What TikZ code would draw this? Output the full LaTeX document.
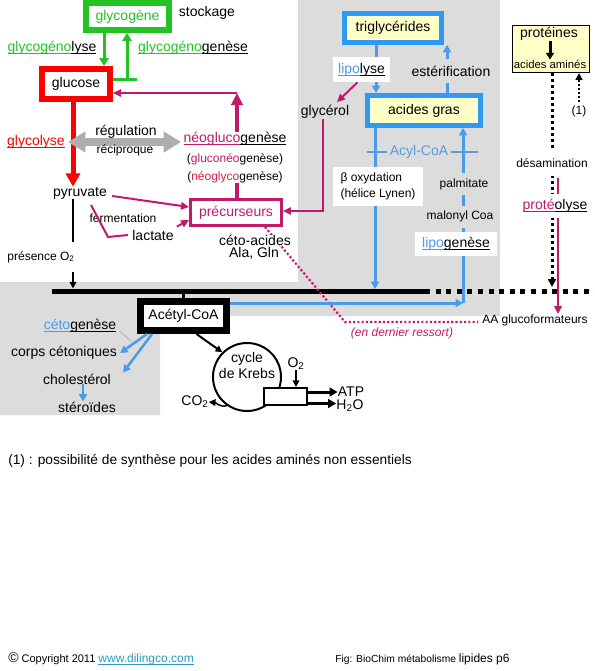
\documentclass[tikz,border=0pt]{standalone}
\usepackage{fontspec}
\setmainfont{Liberation Sans}
\usetikzlibrary{arrows.meta,calc}
\definecolor{cGreen}{HTML}{22C322}
\definecolor{cRed}{HTML}{FF0000}
\definecolor{cMag}{HTML}{C21A6B}
\definecolor{cRedB}{HTML}{D8204A}
\definecolor{cBlue}{HTML}{2E9BF2}
\definecolor{cBlueL}{HTML}{4A9BEA}
\definecolor{cAcyl}{HTML}{5B9BE0}
\definecolor{cYel}{HTML}{FFFFC8}
\definecolor{cBG}{HTML}{DCDCDC}
\definecolor{cGrayA}{HTML}{AEAEAE}
\definecolor{cLink}{HTML}{2A9BC0}
\newcommand{\fL}{\fontsize{10.5}{12}\selectfont}
\newcommand{\fM}{\fontsize{9}{12}\selectfont}
\newcommand{\fS}{\fontsize{8.25}{9.5}\selectfont}
\newcommand{\fF}{\fontsize{10.3}{12}\selectfont}
\newcommand{\ulc}[2]{{\color{#1}\setbox0\hbox{#2}\rlap{\rule[-0.17em]{\wd0}{0.07em}}\box0}}
\begin{document}
\begin{tikzpicture}[x=0.75pt,y=-0.75pt,
  txt/.style={inner sep=0pt,font=\fL},
  stx/.style={inner sep=0pt,font=\fM},
  bx/.style={draw,fill=white,inner sep=0pt,font=\fL,align=center},
  marr/.style={draw=cMag,line width=1.5pt,-{Triangle[length=6pt,width=5.5pt]}},
  mln/.style={draw=cMag,line width=1.5pt},
  mthk/.style={draw=cMag,line width=3pt},
  garr/.style={draw=cGreen,line width=2.25pt,-{Triangle[length=6pt,width=7pt]}},
  barr/.style={draw=cBlueL,line width=2.25pt,-{Triangle[length=5.5pt,width=6pt]}},
  karr/.style={draw=black,line width=1.1pt,-{Triangle[length=5pt,width=5pt]}}
]
\fill[white] (0,0) rectangle (595,671);
\useasboundingbox (0,0) rectangle (595,671);
\fill[cBG] (0,282) -- (298,282) -- (298,0) -- (500,0) -- (500,316) -- (160,316) -- (160,415) -- (0,415) -- cycle;

% ---- glycogen / glucose
\node[bx, draw=cGreen, line width=4.5pt, minimum width=83*0.75pt, minimum height=27*0.75pt, text=cGreen] (glycogen) at (127.5,16.5) {glycogène};
\node[txt] (stock) at (207,13) {stockage};
\node[bx, draw=cRed, line width=4.5pt, minimum width=68*0.75pt, minimum height=30*0.75pt] (glucose) at (76,84) {glucose};
\node[txt] (glyl) at (52,48) {\ulc{cGreen}{glycogéno}\ulc{black}{lyse}};
\node[txt] (glyg) at (193,48) {\ulc{cGreen}{glycogéno}\ulc{black}{genèse}};
\coordinate (gt) at (137,79);
\coordinate (gu) at (127,79);
\draw[garr] (glycogen.south -| 104,0) -- (glucose.north -| 104,0);
\draw[draw=cGreen,line width=2.25pt] (glucose.east |- gt) -- (gt);
\draw[garr] (gu) -- (glycogen.south -| gu);

% ---- glycolysis
\node[txt] (glycol) at (36,142) {\ulc{cRed}{glycolyse}};
\node[txt] (pyr) at (80,193) {pyruvate};
\draw[draw=cRed, line width=3.75pt, -{Triangle[length=10pt,width=10.5pt]}] (glucose.south -| 73,0) -- (pyr.north -| 73,0);

% ---- regulation
\coordinate (ga1) at (68,142);
\coordinate (ga2) at (181,142);
\draw[draw=cGrayA, line width=6pt, {Triangle[length=13pt,width=15pt]}-{Triangle[length=13pt,width=15pt]}] (ga1) -- (ga2);
\node[txt] (reg) at (126,132) {régulation};
\node[stx] (recip) at (125,150) {réciproque};

% ---- neoglucogenese
\node[txt] (neo) at (235,139) {\ulc{cMag}{néogluco}\ulc{black}{genèse}};
\node[stx] (gluconeo) at (235,159) {(\textcolor{cMag}{gluconéo}genèse)};
\node[stx] (neoglyco) at (235,177) {(\textcolor{cRedB}{néoglyco}genèse)};
\coordinate (mtop) at (237,93);
\draw[draw=cMag, line width=3pt, -{Triangle[length=9pt,width=8.5pt]}] (neo.north -| mtop) -- (mtop);
\draw[marr] (mtop) -- (glucose.east |- mtop);
\node[bx, draw=cMag, line width=2.6pt, minimum width=90.5*0.75pt, minimum height=25.5*0.75pt, text=cMag] (prec) at (236,212.5) {précurseurs};
\draw[mthk] (neoglyco.south -| 237,0) -- (prec.north -| 237,0);

% ---- pyruvate, lactate
\draw[marr] ($(pyr.east)+(5,3)$) -- (prec.west |- 0,207);
\node[stx] (ferm) at (123,218) {fermentation};
\node[txt] (lact) at (153,235) {lactate};
\coordinate (fb1) at (91,205);
\coordinate (fb2) at (108,237);
\draw[mln] (fb1) -- (fb2) -- ($(lact.west)+(-4,0)$);
\draw[marr] ($(lact.north east)+(3,-3)$) -- (prec.west |- 0,220);

% ---- bar
\coordinate (barL) at (52,291);
\coordinate (barM) at (425,291);
\coordinate (barR) at (595,291);
\draw[line width=3.75pt] (barL) -- (barM);
\draw[line width=3.75pt, dash pattern=on 3.75pt off 4.2pt] (barM) -- (barR);
\coordinate (pyb) at (73,288.5);
\draw[draw=black, line width=1.5pt, -{Triangle[length=5pt,width=5pt]}] (pyr.south -| pyb) -- (pyb);
\node[stx, fill=white, minimum height=30*0.75pt] (pres) at (41,257) {présence O\textsubscript{2}};

% ---- ceto-acides dotted
\node[stx] (aa) at (535,320) {AA glucoformateurs};
\coordinate (dc) at (345,322);
\draw[draw=cMag, line width=1.6pt, dash pattern=on 1.6pt off 1.6pt] (prec.south -| 265,0) -- (dc) -- ($(dc -| aa.west)+(-4,0)$);
\node[txt, fill=white] (ceto) at (255,240) {céto-acides};
\node[txt] (ala) at (254,253) {Ala, Gln};
\node[stx, text=cMag, font=\fM\itshape] (dernier) at (402,333) {(en dernier ressort)};

% ---- lipids
\node[bx, draw=cBlue, fill=cYel, line width=3.75pt, minimum width=97*0.75pt, minimum height=29*0.75pt] (trig) at (393,28) {triglycérides};
\node[bx, draw=cBlue, fill=cYel, line width=4.1pt, minimum width=112.5*0.75pt, minimum height=29.5*0.75pt] (ag) at (424,110.5) {acides gras};
\draw[barr] (trig.south -| 376,0) -- (ag.north -| 376,0);
\draw[barr] (ag.north -| 447,0) -- (trig.south -| 447,0);
\node[inner sep=0pt, fill=white, minimum width=57*0.75pt, minimum height=25*0.75pt, font=\fL] (lipo) at (361.5,69.5) {\ulc{cBlueL}{lipo}\ulc{black}{lyse}};
\node[txt, fill=cBG, minimum height=24*0.75pt] (ester) at (451,71) {estérification};
\node[txt] (glycerol) at (325,112) {glycérol};
\draw[marr] ($(lipo.south)+(-4,0)$) -- ($(glycerol.north)+(12,-3)$);
\draw[marr] (glycerol.south -| 323,0) |- (prec.east |- 0,211);

% Acetyl-CoA
\node[bx, line width=5.25pt, minimum width=86*0.75pt, minimum height=29*0.75pt] (acetyl) at (183.5,316) {Acétyl-CoA};
\draw[line width=1.9pt] (acetyl.north) -- (acetyl.north |- barL);

\coordinate (bc) at (463,303);
\draw[barr] (acetyl.east |- bc) -- (bc);
\draw[barr] (bc) -- (ag.south -| bc);
\coordinate (bl) at (375,289);
\draw[barr] (ag.south -| bl) -- (bl);
\coordinate (acl1) at (367,152);
\coordinate (acl2) at (478,152);
\draw[draw=cAcyl, line width=0.9pt] (acl1) -- (acl2);
\node[txt, text=cAcyl, fill=cBG, inner xsep=2pt] (acyl) at (419,152) {Acyl-CoA};
\node[stx, fill=white, align=left, minimum width=90*0.75pt, minimum height=39*0.75pt] (beta) at (378,186.5) {β oxydation\\(hélice Lynen)};
\node[stx, fill=cBG, minimum height=22*0.75pt] (palm) at (464,184) {palmitate};
\node[stx, fill=cBG, minimum height=22*0.75pt] (malo) at (460,216.5) {malonyl Coa};
\node[inner sep=0pt, fill=white, minimum width=82*0.75pt, minimum height=24*0.75pt, font=\fL] (lipog) at (456,244) {\ulc{cBlueL}{lipo}\ulc{black}{genèse}};

% ---- proteins
\node[draw, fill=cYel, line width=0.9pt, minimum width=77*0.75pt, minimum height=47*0.75pt, inner sep=0pt] (prot) at (551,49) {};
\node[txt] (prot1) at (549,34) {protéines};
\node[inner sep=0pt, font=\fontsize{8.5}{10}\selectfont] (prot2) at (550,64) {acides aminés};
\draw[line width=2.25pt, -{Triangle[length=5pt,width=6pt]}] (prot1.south -| 550,0) -- (prot2.north -| 550,0);
\coordinate (pdb) at (552,287);
\draw[line width=2.25pt, dash pattern=on 2.25pt off 2.25pt, -{Triangle[length=6pt,width=6pt]}] (prot.south -| pdb) -- (pdb);
\node[stx, fill=white, minimum height=26*0.75pt] (desam) at (552,163) {désamination};
\coordinate (mp1) at (558,178);
\draw[marr] (mp1) -- (aa.north -| mp1);
\node[txt, fill=white, minimum height=24*0.75pt] (proteo) at (555,206) {\ulc{cMag}{proté}\ulc{black}{olyse}};
\node[stx, fill=white, minimum height=18*0.75pt] (one) at (579,111) {(1)};
\draw[line width=1.5pt, dash pattern=on 1.5pt off 1.5pt, -{Triangle[length=5pt,width=5pt]}] (one.north) -- (prot.south -| one.north);

% ---- Krebs
\node[draw, circle, line width=1.5pt, minimum size=68*0.75pt, inner sep=0pt, fill=white] (krebs) at (247,377) {};
\node[txt, align=center] (ktxt) at (247,365) {cycle\\de Krebs};
\node[draw, fill=white, line width=1.5pt, minimum width=43*0.75pt, minimum height=17*0.75pt, inner sep=0pt] (kr) at (285.5,396.5) {};
\draw[karr, line width=1.5pt] ($(acetyl.south)+(13,0)$) -- (krebs.135);
\node[txt] (o2) at (296,364) {O\textsubscript{2}};
\draw[karr] (o2.south) -- (kr.north -| o2.south);
\node[txt] (atp) at (351,392) {ATP};
\node[txt] (h2o) at (350,406) {H\textsubscript{2}O};
\draw[line width=2.25pt, -{Triangle[length=6pt,width=6.5pt]}] (kr.east |- atp) -- (atp.west);
\draw[line width=2.25pt, -{Triangle[length=6pt,width=6.5pt]}] ($(kr.east |- h2o.west)+(0,-2.5)$) -- ($(h2o.west)+(0,-2.5)$);
\node[txt] (co2) at (195,402) {CO\textsubscript{2}};
\draw[karr] (krebs.235) to[out=195,in=-5] (co2.east);

% ---- left bottom
\node[txt] (cetog) at (80,326) {\ulc{cBlueL}{céto}\ulc{black}{genèse}};
\node[txt] (corps) at (64,353) {corps cétoniques};
\node[txt] (chol) at (77,379) {cholestérol};
\node[txt] (ster) at (87,407) {stéroïdes};
\draw[barr, line width=1.9pt] ($(acetyl.south west)+(10,0)$) -- ($(corps.east)+(3,0)$);
\draw[barr, line width=1.9pt] ($(acetyl.south west)+(15,0)$) -- ($(chol.north east)+(12,-1)$);
\draw[barr, line width=1.5pt] (chol.south -| 83,0) -- (ster.north -| 83,0);
\coordinate (cp) at (132,342);
\draw[draw=gray!60, line width=0.6pt] ($(cetog.east)+(3,5)$) -- (cp);

% ---- footnotes
\node[anchor=west, inner sep=0pt, font=\fF] (fn) at (8,461) {(1) : possibilité de synthèse pour les acides aminés non essentiels};
\node[anchor=west, inner sep=0pt, font=\fS] (copy) at (8,659) {{\fL ©} Copyright 2011 {\fontsize{9}{10}\selectfont\ulc{cLink}{www.dilingco.com}}};
\node[anchor=west, inner sep=0pt, font=\fontsize{7.7}{9}\selectfont] (fig) at (335,659) {Fig: BioChim métabolisme {\fontsize{9}{10}\selectfont lipides p6}};
\end{tikzpicture}
\end{document}
